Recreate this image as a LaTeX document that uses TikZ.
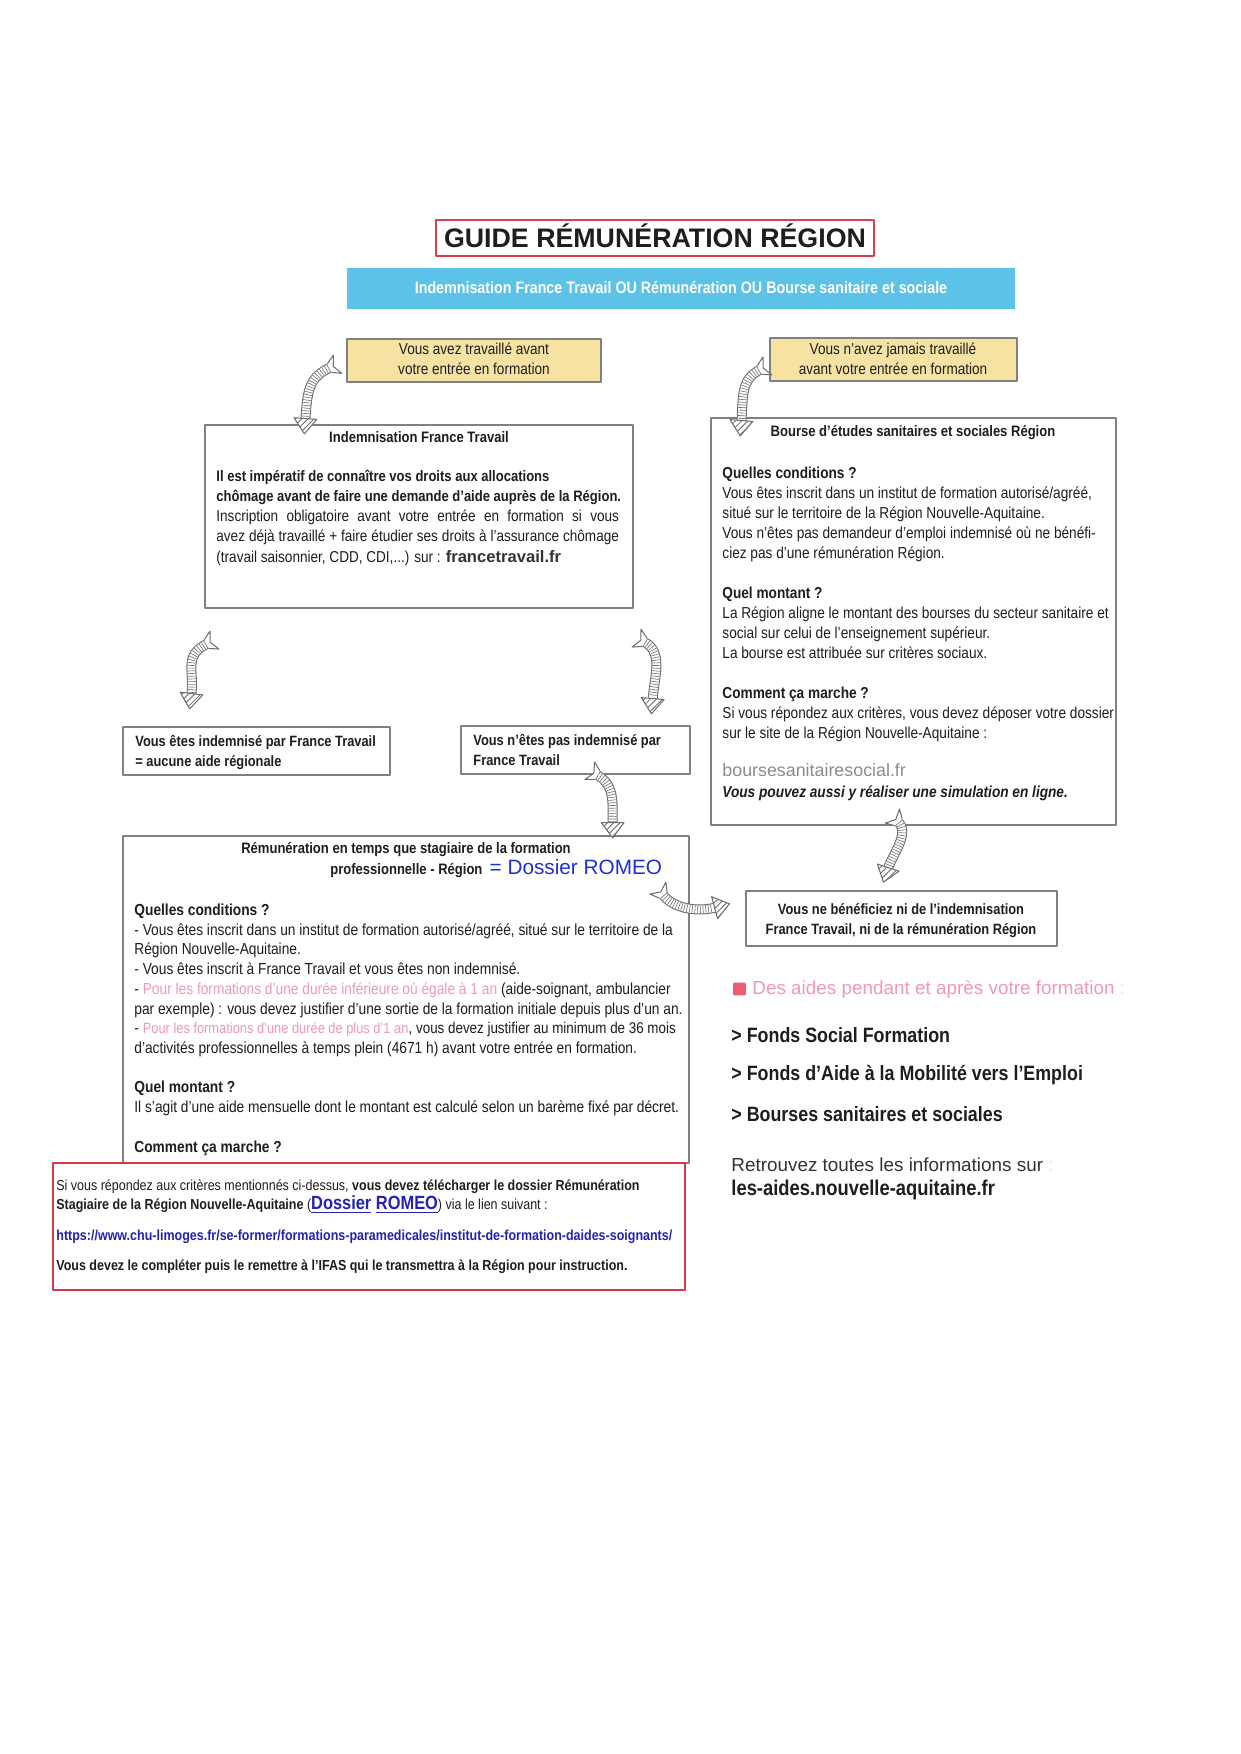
\documentclass[tikz,border=0pt]{standalone}
\usepackage{fontspec}
\setmainfont{Liberation Sans}
\newfontfamily\plainfont{Liberation Sans}
\newfontfamily\condfont{Liberation Sans}[FakeStretch=0.86]
\usetikzlibrary{arrows.meta,decorations.markings,patterns,fit}
\definecolor{framegray}{HTML}{808080}
\definecolor{arrowgray}{HTML}{6E6E6E}
\definecolor{titlered}{HTML}{D5424E}
\definecolor{boxred}{HTML}{D63848}
\definecolor{bandblue}{HTML}{5DC2E7}
\definecolor{paleyellow}{HTML}{F6E3A3}
\definecolor{pinktext}{HTML}{F19AAE}
\definecolor{pinkmark}{HTML}{EC5C73}
\definecolor{romeoblue}{HTML}{1F2FD6}
\definecolor{linkblue}{HTML}{2222B5}
\definecolor{sitegray}{HTML}{8C8C8C}
\definecolor{darktext}{HTML}{1E1E1E}
\definecolor{softtext}{HTML}{333333}
\tikzset{
  every picture/.style={line join=round, >=Stealth},
  frame/.style={draw=framegray, line width=0.6pt, inner sep=0pt},
  yellowbox/.style={frame, fill=paleyellow},
  txt/.style={inner sep=0pt, anchor=base west, align=left, text=darktext},
  ctxt/.style={inner sep=0pt, anchor=base, align=center, text=darktext},
  curvy/.style={draw=arrowgray, line width=4.8pt,
    postaction={draw=white, line width=3.8pt},
    postaction={decorate, decoration={markings,
      mark=at position 0 with {\draw[arrowgray, fill=white, line width=0.5pt] (0.4pt,-2.4pt) -- (-3.8pt,-4.8pt) -- (-1.5pt,0pt) -- (-3.8pt,4.8pt) -- (0.4pt,2.4pt);},
      mark=between positions 0.03 and 0.97 step 1.3pt with {\draw[arrowgray, line width=0.3pt] (0pt,-1.9pt) -- (0pt,1.9pt);},
      mark=at position 1 with {\draw[arrowgray, line width=0.5pt, preaction={fill=white}, pattern=north east lines, pattern color=arrowgray] (-0.4pt,-5.5pt) -- (7pt,0pt) -- (-0.4pt,5.5pt) -- cycle;}}}},
}
\begin{document}
\begin{tikzpicture}[x=0.016935cm, y=-0.016935cm]
\useasboundingbox (0,0) rectangle (1240,1754);
\fill[white] (0,0) rectangle (1240,1754);

% title and band
\node[frame, draw=titlered, line width=0.8pt, fit={(436,220) (874,256)}] (titlebox) {};
\node[ctxt, font=\plainfont\bfseries\fontsize{12.9}{14}\selectfont] (title) at (655,247) {GUIDE RÉMUNÉRATION RÉGION};
\node[fill=bandblue, inner sep=0pt, fit={(347,268) (1015,309)}] (band) {};
\node[ctxt, text=white, font=\condfont\bfseries\fontsize{8}{9}\selectfont] (bandtext) at (681,293) {Indemnisation France Travail OU Rémunération OU Bourse sanitaire et sociale};

% yellow boxes
\node[yellowbox, fit={(347,339) (601,382)}] (ya) {};
\node[ctxt, font=\condfont\fontsize{7.6}{9.6}\selectfont] (yatext) at (474,374) {Vous avez travaillé avant\\votre entrée en formation};
\node[yellowbox, fit={(770,338) (1017,381)}] (yb) {};
\node[ctxt, font=\condfont\fontsize{7.6}{9.6}\selectfont] (ybtext) at (893,374) {Vous n’avez jamais travaillé\\avant votre entrée en formation};

% Indemnisation France Travail
\node[frame, fit={(205,425) (633,608)}] (ia) {};
\node[ctxt, font=\condfont\bfseries\fontsize{7.3}{9}\selectfont] (iatitle) at (419,442) {Indemnisation France Travail};
\node[txt, font=\condfont\fontsize{7.6}{9.7}\selectfont] (iabody) at (216,562) {%
{\bfseries\fontsize{7.3}{9.7}\selectfont Il est impératif de connaître vos droits aux allocations}\\
{\bfseries\fontsize{7.3}{9.7}\selectfont chômage avant de faire une demande d’aide auprès de la Région.}\\
\makebox[194pt][s]{Inscription obligatoire avant votre entrée en formation si vous}\\
\makebox[194pt][s]{avez déjà travaillé + faire étudier ses droits à l’assurance chômage}\\
(travail saisonnier, CDD, CDI,...) sur : {\plainfont\bfseries\fontsize{8}{9.7}\selectfont\color{softtext}francetravail.fr}};

% Bourse
\node[frame, fit={(711,418) (1116,825)}] (ib) {};
\node[ctxt, font=\condfont\bfseries\fontsize{7.3}{9}\selectfont] (ibtitle) at (913,436) {Bourse d’études sanitaires et sociales Région};
\node[txt, font=\condfont\fontsize{7.65}{9.65}\selectfont] (ibbody) at (722,797) {%
\textbf{Quelles conditions ?}\\
Vous êtes inscrit dans un institut de formation autorisé/agréé,\\
situé sur le territoire de la Région Nouvelle-Aquitaine.\\
Vous n’êtes pas demandeur d’emploi indemnisé où ne bénéfi-\\
ciez pas d’une rémunération Région.\\[9.6pt]
\textbf{Quel montant ?}\\
La Région aligne le montant des bourses du secteur sanitaire et\\
social sur celui de l’enseignement supérieur.\\
La bourse est attribuée sur critères sociaux.\\[9.6pt]
\textbf{Comment ça marche ?}\\
Si vous répondez aux critères, vous devez déposer votre dossier\\
sur le site de la Région Nouvelle-Aquitaine :\\[9pt]
{\plainfont\fontsize{8.6}{9.6}\selectfont\color{sitegray}boursesanitairesocial.fr}\\
\textbf{\textit{Vous pouvez aussi y réaliser une simulation en ligne.}}};

% indemnisé or not
\node[frame, fit={(123,727) (390,775)}] (id) {};
\node[txt, font=\condfont\bfseries\fontsize{7.2}{9.6}\selectfont] (idtext) at (135,766) {Vous êtes indemnisé par France Travail\\= aucune aide régionale};
\node[frame, fit={(461,726) (690,774)}] (ie) {};
\node[txt, font=\condfont\bfseries\fontsize{7.2}{9.6}\selectfont] (ietext) at (473,765) {Vous n’êtes pas indemnisé par\\France Travail};

% Remuneration Region
\node[frame, fit={(123,836) (689,1163)}] (ic) {};
\node[ctxt, font=\condfont\bfseries\fontsize{7.3}{9}\selectfont] (ictitle) at (406,853) {Rémunération en temps que stagiaire de la formation};
\node[txt, font=\condfont\bfseries\fontsize{7.3}{9}\selectfont] (icromeo) at (330,874) {professionnelle - Région\hspace{3.5pt}{\plainfont\mdseries\fontsize{10}{10}\selectfont\color{romeoblue}= Dossier ROMEO}};
\node[txt, font=\condfont\fontsize{7.7}{9.5}\selectfont] (icbody) at (134,1152) {%
\textbf{Quelles conditions ?}\\
- Vous êtes inscrit dans un institut de formation autorisé/agréé, situé sur le territoire de la\\
Région Nouvelle-Aquitaine.\\
- Vous êtes inscrit à France Travail et vous êtes non indemnisé.\\
- {\color{pinktext}Pour les formations d’une durée inférieure où égale à 1 an} (aide-soignant, ambulancier\\
par exemple) : vous devez justifier d’une sortie de la formation initiale depuis plus d’un an.\\
- {\color{pinktext}\fontsize{7.2}{9.5}\selectfont Pour les formations d’une durée de plus d’1 an}, {\fontsize{7.5}{9.5}\selectfont vous devez justifier au minimum de 36 mois}\\
d’activités professionnelles à temps plein (4671 h) avant votre entrée en formation.\\[9.5pt]
\textbf{Quel montant ?}\\
Il s’agit d’une aide mensuelle dont le montant est calculé selon un barème fixé par décret.\\[9.5pt]
\textbf{Comment ça marche ?}};

% red box
\node[frame, draw=boxred, line width=0.9pt, fill=white, fit={(53,1163) (685,1290)}] (rb) {};
\node[txt, font=\condfont\fontsize{7}{9.1}\selectfont] (rbtext) at (56,1270) {%
Si vous répondez aux critères mentionnés ci-dessus, \textbf{vous devez télécharger le dossier Rémunération}\\
\textbf{Stagiaire de la Région Nouvelle-Aquitaine} ({\color{linkblue}\bfseries\fontsize{9.2}{9.1}\selectfont\underline{Dossier} \underline{ROMEO}}) via le lien suivant :\\[5.8pt]
{\color{linkblue}\bfseries https://www.chu-limoges.fr/se-former/formations-paramedicales/institut-de-formation-daides-soignants/}\\[5.3pt]
\textbf{Vous devez le compléter puis le remettre à l’IFAS qui le transmettra à la Région pour instruction.}};

% neither
\node[frame, fit={(746,891) (1057,946)}] (nf) {};
\node[ctxt, font=\condfont\bfseries\fontsize{7.2}{9.6}\selectfont] (nftext) at (901,934) {Vous ne bénéficiez ni de l’indemnisation\\France Travail, ni de la rémunération Région};

% aides
\node[fill=pinkmark, minimum size=6.2pt, inner sep=0pt, rounded corners=0.6pt] (pinksq) at (739.5,989) {};
\node[txt, text=pinktext, font=\plainfont\fontsize{9.1}{10}\selectfont] (aides) at (752,994) {Des aides pendant et après votre formation {\color{pinktext!35}:}};
\node[txt, font=\condfont\bfseries\fontsize{10}{12}\selectfont] (fsf) at (731,1042) {> Fonds Social Formation};
\node[txt, font=\condfont\bfseries\fontsize{10}{12}\selectfont] (fam) at (731,1080) {> Fonds d’Aide à la Mobilité vers l’Emploi};
\node[txt, font=\condfont\bfseries\fontsize{10}{12}\selectfont] (bss) at (731,1121) {> Bourses sanitaires et sociales};
\node[txt, text=softtext, font=\plainfont\fontsize{9.1}{11}\selectfont] (retrouvez) at (731,1171) {Retrouvez toutes les informations sur {\color{black!12}:}};
\node[txt, font=\condfont\bfseries\fontsize{10.3}{12}\selectfont] (site) at (731,1195) {les-aides.nouvelle-aquitaine.fr};

% curved arrows
\draw[curvy] ([shift={(-16,7)}]ya.west) .. controls +(-22,10) and +(2,-28) .. ([shift={(101,-5)}]ia.north west);
\draw[curvy] ([shift={(-9,10)}]yb.west) .. controls +(-20,10) and +(2,-25) .. ([shift={(31,4)}]ib.north west);
\draw[curvy] ([shift={(3,35)}]ia.south west) .. controls +(-24,12) and +(3,-25) .. ([shift={(69,-32)}]id.north west);
\draw[curvy] ([shift={(10,33)}]ia.south east) .. controls +(20,10) and +(2,-25) .. ([shift={(-38,-26)}]ie.north east);
\draw[curvy] ([shift={(-94,0)}]ie.south east) .. controls +(18,10) and +(0,-22) .. ([shift={(-77,-12)}]ic.north east);
\draw[curvy] ([shift={(-27,59)}]ic.north east) .. controls +(12,16) and +(-15,4) .. ([shift={(-30,-11)}]nf.west);
\draw[curvy] ([shift={(-15.5,-4)}]ib.south) .. controls +(12,12) and +(5,-15) .. ([shift={(-13.5,-22)}]nf.north);
\end{tikzpicture}
\end{document}
